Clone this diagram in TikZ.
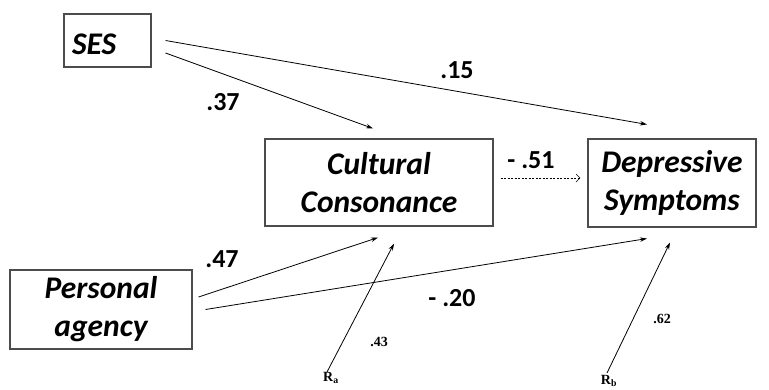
\documentclass[tikz,border=0pt]{standalone}
\usepackage{fontspec}
\setmainfont{Carlito}
\newfontfamily\resfont{Liberation Serif}
\usetikzlibrary{
    arrows.meta       % For the small arrow tips
}

\begin{document}
\begin{tikzpicture}[
    x=1pt, y=-1pt,
    % Style for the variable boxes
    var_box/.style={
        draw=black!70,
        line width=1.1pt,
        inner sep=0pt,
        font=\fontsize{31.5}{38}\selectfont\bfseries\itshape,
        align=center
    },
    % Style for the path arrows
    path_arrow/.style={
        -{Stealth[length=7pt, width=4.5pt]},
        line width=0.8pt
    },
    % Style for the dashed arrow with open tip
    dashed_arrow/.style={
        -{Straight Barb[length=4pt, width=8pt]},
        line width=0.6pt,
        dash pattern=on 2pt off 1.5pt
    },
    % Style for the path coefficients
    coef_label/.style={
        font=\fontsize{26}{30}\selectfont\bfseries,
        inner sep=0pt
    },
    % Style for the residual labels
    res_label/.style={
        font=\resfont\fontsize{14}{16}\selectfont\bfseries,
        inner sep=0pt
    }
]
    \useasboundingbox (0,0) rectangle (769,389);

    % 1. The variable boxes
    \node[var_box, minimum width=87pt, minimum height=53pt, text width=71pt, text height=29pt, align=left] (ses) at (107.5,40.5) {SES};
    \node[var_box, minimum width=228pt, minimum height=87pt] (cultural) at (379,182.5) {Cultural\\Consonance};
    \node[var_box, minimum width=168pt, minimum height=88pt] (depressive) at (672,183) {Depressive\\Symptoms};
    \node[var_box, minimum width=182pt, minimum height=79pt] (agency) at (101,309.5) {Personal\\agency};

    % 2. The residual labels
    \node[res_label, anchor=north] (res_a) at (331,372) {R\textsubscript{a}};
    \node[res_label, anchor=north] (res_b) at (609,375) {R\textsubscript{b}};

    % 3. The path arrows
    \draw[path_arrow] ([xshift=14pt]ses.east) -- ([xshift=-25pt, yshift=14pt]depressive.north);
    \draw[path_arrow] ([xshift=14pt, yshift=-12.5pt]ses.east) -- ([xshift=-6pt, yshift=10pt]cultural.north);
    \draw[dashed_arrow] ([xshift=7pt, yshift=4.5pt]cultural.east) -- ([xshift=-7pt, yshift=5pt]depressive.west);
    \draw[path_arrow] ([xshift=6pt, yshift=12.5pt]agency.east) -- ([xshift=-1pt, yshift=-11pt]cultural.south);
    \draw[path_arrow] ([xshift=13pt]agency.east) -- ([xshift=-25pt, yshift=-11pt]depressive.south);
    \draw[path_arrow] ([xshift=-4pt]res_a.north) -- ([xshift=15pt, yshift=-17pt]cultural.south);
    \draw[path_arrow] ([xshift=-2pt, yshift=2pt]res_b.north) -- ([xshift=-2pt, yshift=-15pt]depressive.south);

    % 4. The coefficients
    \node[coef_label] (coef_ses_dep) at (457,70) {.15};
    \node[coef_label] (coef_ses_cul) at (223,102) {.37};
    \node[coef_label] (coef_cul_dep) at (531,160) {- .51};
    \node[coef_label] (coef_age_cul) at (222,259) {.47};
    \node[coef_label] (coef_age_dep) at (452,298) {- .20};
    \node[res_label] (coef_res_a) at (379,342) {.43};
    \node[res_label] (coef_res_b) at (662,319) {.62};

\end{tikzpicture}
\end{document}
